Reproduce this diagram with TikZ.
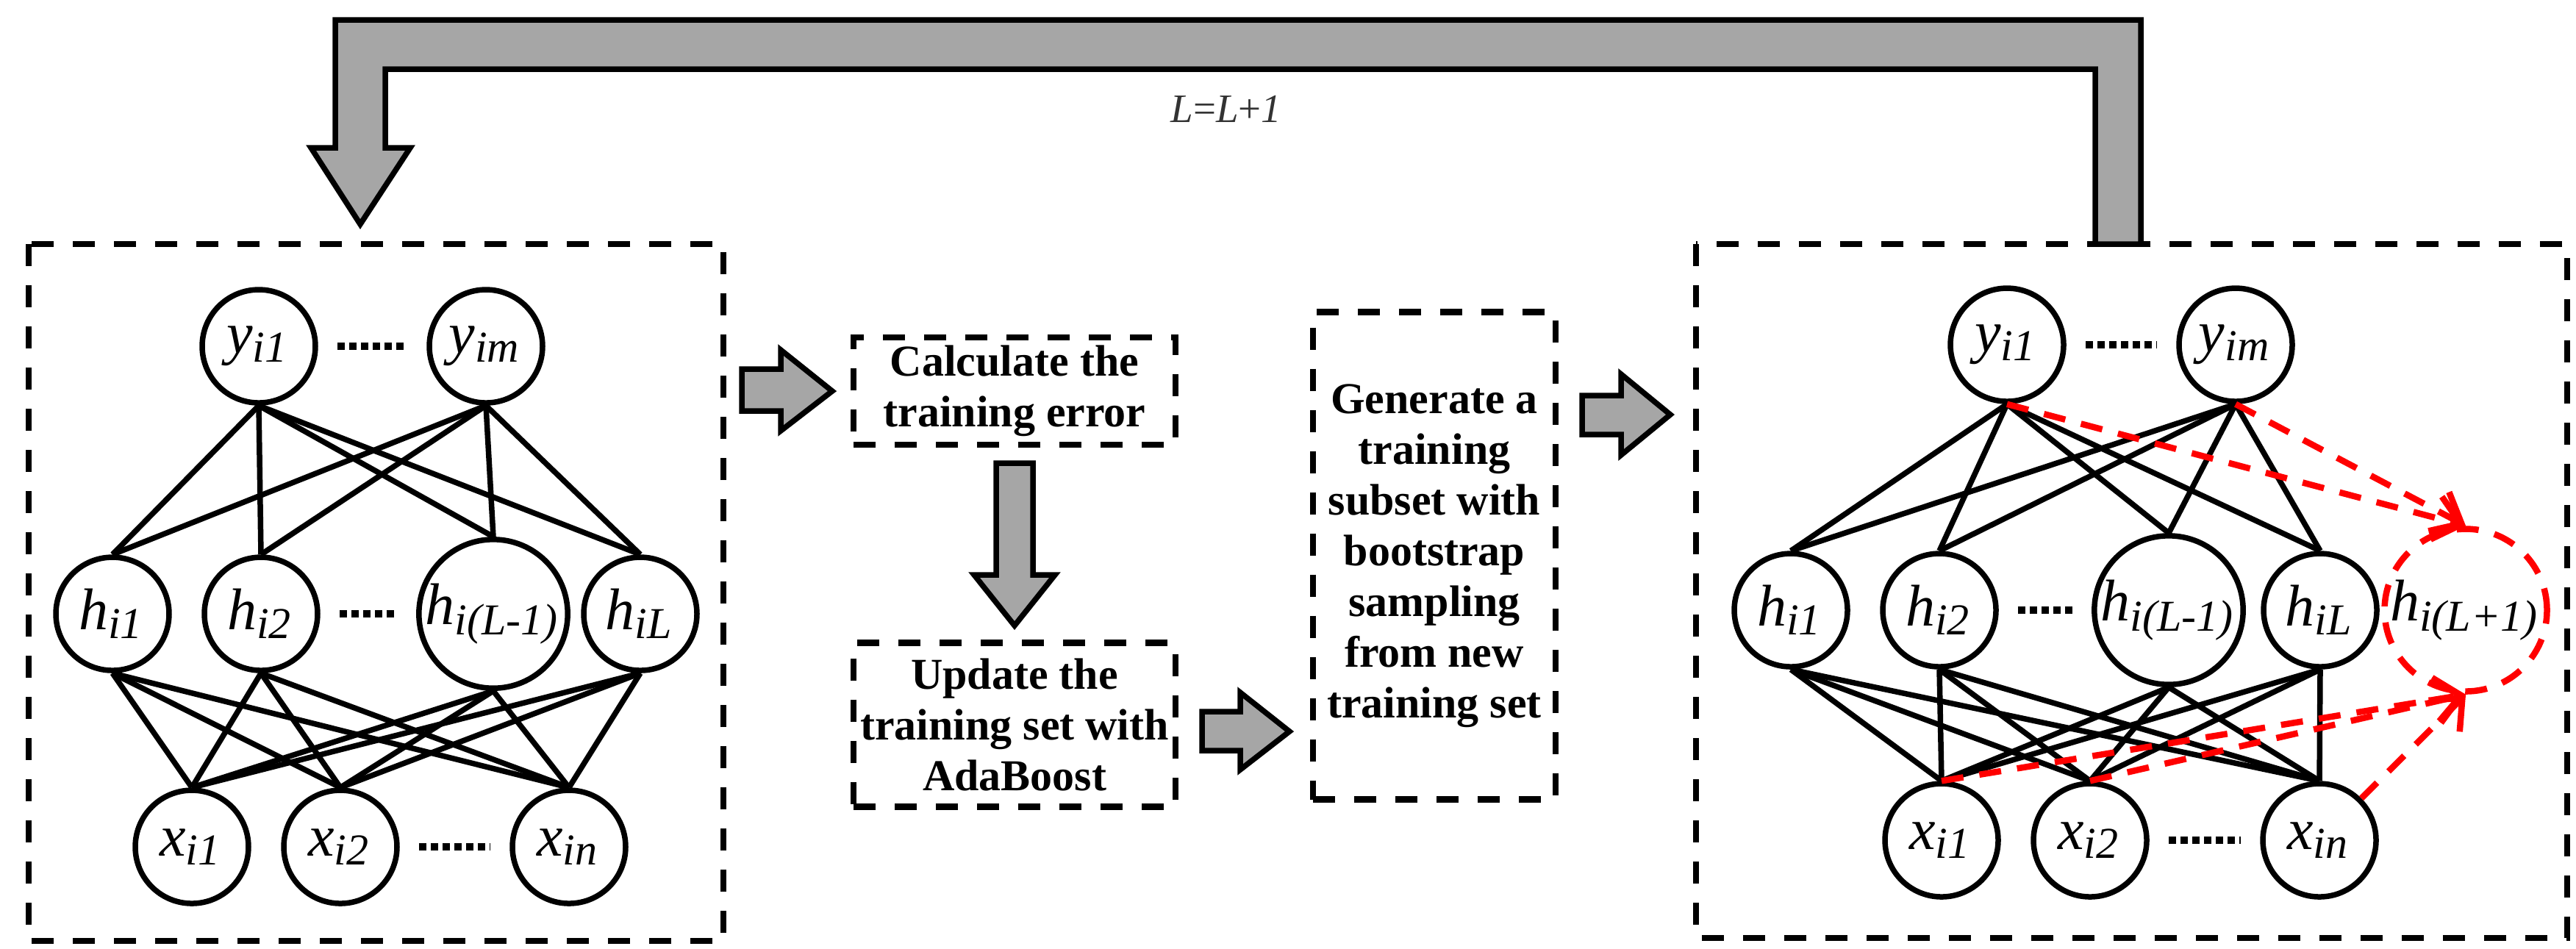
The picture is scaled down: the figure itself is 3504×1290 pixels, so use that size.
\documentclass[tikz,border=0pt]{standalone}
\usepackage{fontspec}
\setmainfont{Liberation Serif}
\usetikzlibrary{arrows.meta}

\definecolor{arrowgray}{RGB}{166,166,166}
\newcommand{\nsub}[2]{\textit{#1}\textsubscript{\textit{#2}}}

\tikzset{every picture/.style={line width=0.75pt}}
\tikzset{
  neuron/.style={draw, circle, minimum size=15.4pt, inner sep=0pt, font=\fontsize{8}{8}\selectfont},
  frame/.style={draw, line width=0.85pt, dash pattern=on 3pt off 2.6pt},
  stepbox/.style={frame, align=center, inner sep=0pt, font=\fontsize{6}{6.9}\selectfont\bfseries},
  blockarrow/.style={draw, fill=arrowgray, line join=miter},
  dotrow/.style={line width=1pt, dash pattern=on 1pt off 0.6pt, shorten <=2.6pt, shorten >=2.6pt},
  newlink/.style={draw=red, line width=0.85pt, dash pattern=on 3pt off 2.2pt, -{Straight Barb[length=3.5pt,width=6pt]}}
}

\begin{document}
\begin{tikzpicture}[x=0.1pt,y=0.1pt,yscale=-1,xscale=1]
\useasboundingbox (0,0) rectangle (3504,1290);

%Frames
\draw [frame] (39,332) rectangle (984,1280);
\draw [frame] (2307,332) rectangle (3492,1276);

%Feedback arrow
\draw [blockarrow] (2912,332) -- (2912,27) -- (456,27) -- (456,201) -- (423,201) -- (490,305) -- (558,201) -- (524,201) -- (524,94) -- (2850,94) -- (2850,332) -- cycle;
% Text Node
\node (lbl) at (1668,148) {\color{black!80}\fontsize{5.5}{6}\selectfont\textit{L}=\textit{L}+\textit{1}};

%Left network
\node [neuron] (ly1) at (352,471) {\nsub{y}{i1}};
\node [neuron] (lym) at (661,471) {\nsub{y}{im}};
\node [neuron] (lh1) at (153,835) {\nsub{h}{i1}};
\node [neuron] (lh2) at (355,835) {\nsub{h}{i2}};
\node [neuron] (lhk) at (671,835) {\nsub{h}{i(L-1)}};
\node [neuron] (lhL) at (871,835) {\nsub{h}{iL}};
\node [neuron] (lx1) at (261,1152) {\nsub{x}{i1}};
\node [neuron] (lx2) at (463,1152) {\nsub{x}{i2}};
\node [neuron] (lxn) at (774,1152) {\nsub{x}{in}};
\draw [dotrow] (ly1) -- (lym);
\draw [dotrow] (lh2) -- (lhk);
\draw [dotrow] (lx2) -- (lxn);
\foreach \h in {lh1,lh2,lhk,lhL}{
  \foreach \y in {ly1,lym} \draw (\y.south) -- (\h.north);
  \foreach \x in {lx1,lx2,lxn} \draw (\h.south) -- (\x.north);
}

%Steps
\node [stepbox, minimum width=43.8pt, minimum height=14.6pt] (calc) at (1380,532) {Calculate the\\training error};
\node [stepbox, minimum width=43.8pt, minimum height=22.3pt] (upd) at (1380,986) {Update the\\training set with\\AdaBoost};
\node [stepbox, minimum width=33pt, minimum height=66.3pt] (gen) at (1951,756) {Generate a\\training\\subset with\\bootstrap\\sampling\\from new\\training set};

\draw [blockarrow] (1009,502) -- (1062,502) -- (1062,476) -- (1132,532) -- (1062,586) -- (1062,559) -- (1009,559) -- cycle;
\draw [blockarrow] (1355,630) -- (1405,630) -- (1405,782) -- (1435,782) -- (1380,851) -- (1325,782) -- (1355,782) -- cycle;
\draw [blockarrow] (1635,968) -- (1687,968) -- (1687,942) -- (1754,995) -- (1687,1047) -- (1687,1021) -- (1635,1021) -- cycle;
\draw [blockarrow] (2152,538) -- (2205,538) -- (2205,509) -- (2272,564) -- (2205,619) -- (2205,591) -- (2152,591) -- cycle;

%Right network
\node [neuron] (ry1) at (2730,469) {\nsub{y}{i1}};
\node [neuron] (rym) at (3041,469) {\nsub{y}{im}};
\node [neuron] (rh1) at (2436,830) {\nsub{h}{i1}};
\node [neuron] (rh2) at (2638,830) {\nsub{h}{i2}};
\node [neuron] (rhk) at (2950,830) {\nsub{h}{i(L-1)}};
\node [neuron] (rhL) at (3156,830) {\nsub{h}{iL}};
\node [neuron, draw=red, line width=0.85pt, dash pattern=on 3pt off 2.2pt] (rhn) at (3354,830) {\nsub{h}{i(L+1)}};
\node [neuron] (rx1) at (2641,1143) {\nsub{x}{i1}};
\node [neuron] (rx2) at (2843,1143) {\nsub{x}{i2}};
\node [neuron] (rxn) at (3155,1143) {\nsub{x}{in}};
\draw [dotrow] (ry1) -- (rym);
\draw [dotrow] (rh2) -- (rhk);
\draw [dotrow] (rx2) -- (rxn);
\foreach \h in {rh1,rh2,rhk,rhL}{
  \foreach \y in {ry1,rym} \draw (\y.south) -- (\h.north);
  \foreach \x in {rx1,rx2,rxn} \draw (\h.south) -- (\x.north);
}
\draw [newlink] (ry1.south) -- (rhn.north);
\draw [newlink] (rym.south) -- (rhn.north);
\draw [newlink] (rx1.north) -- (rhn.south);
\draw [newlink] (rx2.north) -- (rhn.south);
\draw [newlink] (rxn.north east) -- (rhn.south);

\end{tikzpicture}
\end{document}
